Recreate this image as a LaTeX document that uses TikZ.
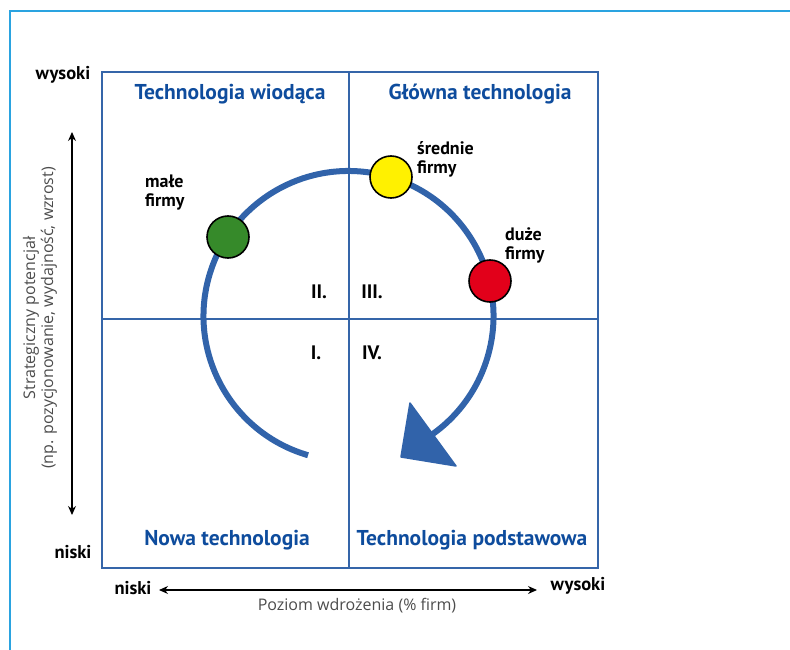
\documentclass[tikz,border=0pt]{standalone}
\usepackage{fontspec}
\setmainfont{PT Sans}
\newfontfamily\axisfont{Open Sans}
\usetikzlibrary{calc,arrows.meta}
\definecolor{framecyan}{HTML}{2AA3E0}
\definecolor{gridblue}{HTML}{3565A9}
\definecolor{titleblue}{HTML}{0E4C9D}
\definecolor{cyclblue}{HTML}{3163AA}
\definecolor{smallgreen}{HTML}{368A2A}
\definecolor{midyellow}{HTML}{FFF100}
\definecolor{bigred}{HTML}{E2001A}
\begin{document}
\begin{tikzpicture}[x=1pt,y=-1pt,
  quadtitle/.style={font=\bfseries\fontsize{21.5}{24}\selectfont, text=titleblue, inner sep=0},
  numeral/.style={font=\bfseries\fontsize{19.5}{22}\selectfont, inner sep=0},
  firmlabel/.style={font=\bfseries\fontsize{18}{19}\selectfont, align=left, inner sep=0},
  axisend/.style={font=\bfseries\fontsize{18.5}{20}\selectfont, inner sep=0},
  axistext/.style={font=\axisfont\fontsize{16}{18}\selectfont, text=black!70, inner sep=0},
  firm/.style={circle, draw=black, line width=1.6pt, minimum size=42pt, inner sep=0},
  axisarrow/.style={line width=1.2pt, {Stealth[length=9pt,width=8pt]}-{Stealth[length=9pt,width=8pt]}}]
  \useasboundingbox (0,0) rectangle (790,650);

  % page frame
  \draw[framecyan, line width=1.2pt] (10,650) -- (10,11) -- (790,11);

  % matrix square and quadrant dividers
  \coordinate (sqTL) at (102,72);
  \coordinate (sqBR) at (598,568);
  \coordinate (midT) at (349,72);
  \coordinate (midB) at (349,568);
  \coordinate (midL) at (102,319);
  \coordinate (midR) at (598,319);
  \draw[gridblue, line width=1.6pt] (midT) -- (midB) (midL) -- (midR);
  \draw[gridblue, line width=2.2pt] (sqTL) rectangle (sqBR);

  % quadrant titles
  \node[quadtitle] (tw) at (230,94) {Technologia wiodąca};
  \node[quadtitle] (gt) at (480,94) {Główna technologia};
  \node[quadtitle] (nt) at (227,540) {Nowa technologia};
  \node[quadtitle] (tp) at (472,540) {Technologia podstawowa};

  % quadrant numbers
  \node[numeral] (n2) at (319,292) {II.};
  \node[numeral] (n3) at (372,292) {III.};
  \node[numeral] (n1) at (316,353) {I.};
  \node[numeral] (n4) at (372,353) {IV.};

  % life cycle arc with arrow head
  \coordinate (cc) at (348.5,316);
  \draw[cyclblue, line width=6pt] ($(cc)+(253.8:145pt)$) arc[start angle=253.8, end angle=-54.4, radius=145pt];
  \coordinate (tipA) at (410,403);
  \coordinate (tipB) at (401,457);
  \coordinate (tipC) at (456,466);
  \fill[cyclblue, draw=cyclblue, line width=1.5pt, line join=round] (tipA) -- (tipB) -- (tipC) -- cycle;

  % firm groups
  \node[firm, fill=smallgreen] (small) at (228,237) {};
  \node[firm, fill=midyellow] (medium) at (391,177) {};
  \node[firm, fill=bigred] (large) at (490,281) {};
  \node[firmlabel, anchor=west] (smallL) at (145,193) {małe\\firmy};
  \node[firmlabel, anchor=west] (mediumL) at (417,159) {średnie\\firmy};
  \node[firmlabel, anchor=west] (largeL) at (505,245) {duże\\firmy};

  % vertical axis
  \node[axisend] (vHigh) at (63,75) {wysoki};
  \node[axisend] (vLow) at (73,552) {niski};
  \coordinate (vTop) at (72,132);
  \coordinate (vBot) at (72,515);
  \draw[axisarrow] (vTop) -- (vBot);
  \node[axistext, rotate=90, align=center] (vText) at (40,318) {Strategiczny potencjał\\(np. pozycjonowanie, wydajność, wzrost)};

  % horizontal axis
  \node[axisend] (hLow) at (133,588) {niski};
  \node[axisend] (hHigh) at (578,586) {wysoki};
  \coordinate (hLeft) at (159,590);
  \coordinate (hRight) at (537,590);
  \draw[axisarrow] (hLeft) -- (hRight);
  \node[axistext] (hText) at (357,606) {Poziom wdrożenia (\% firm)};
\end{tikzpicture}
\end{document}
